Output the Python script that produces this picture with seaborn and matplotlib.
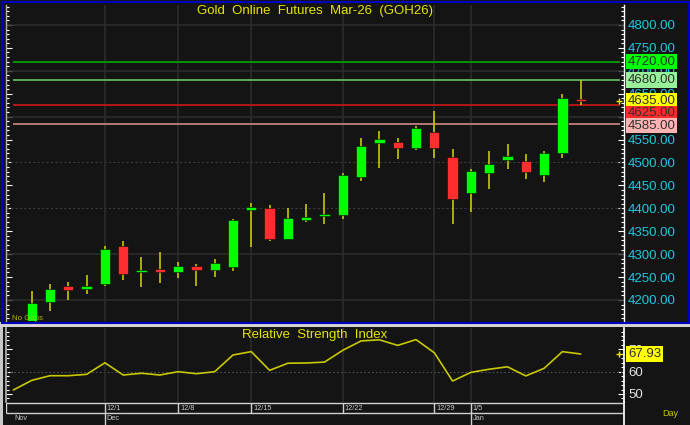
import numpy as np
import pandas as pd
import matplotlib
matplotlib.use("Agg")
import matplotlib.pyplot as plt
import matplotlib.ticker as mticker
import matplotlib.transforms as mtrans
from matplotlib.patches import Rectangle
import seaborn as sns

sns.set_theme(style="dark", rc={"axes.facecolor": "#141414", "figure.facecolor": "#141414"})
plt.rcParams['font.family'] = ['Liberation Sans', 'DejaVu Sans']

# =====================
# DATA
# =====================
opens  = [4128, 4150, 4196, 4231, 4224, 4235, 4317, 4260, 4268, 4262, 4275, 4265, 4273, 4397, 4401, 4333,
          4375, 4383, 4385, 4468, 4543, 4545, 4532, 4566, 4513, 4433, 4476, 4505, 4503, 4473, 4520, 4638]
closes = [4146, 4193, 4225, 4222, 4231, 4311, 4256, 4265, 4260, 4275, 4265, 4281, 4375, 4403, 4334, 4379,
          4381, 4388, 4473, 4537, 4551, 4531, 4575, 4532, 4421, 4482, 4497, 4515, 4479, 4520, 4641, 4635]
highs  = [4152, 4220, 4235, 4239, 4255, 4317, 4329, 4294, 4305, 4283, 4278, 4289, 4377, 4412, 4408, 4401,
          4409, 4433, 4477, 4554, 4569, 4554, 4580, 4613, 4529, 4485, 4524, 4541, 4518, 4526, 4649, 4680]
lows   = [4118, 4140, 4175, 4201, 4213, 4231, 4244, 4228, 4238, 4247, 4231, 4251, 4264, 4316, 4329, 4332,
          4371, 4365, 4377, 4460, 4487, 4507, 4528, 4509, 4366, 4393, 4443, 4485, 4463, 4457, 4509, 4625]
rsi    = [51.8, 56.1, 58.2, 58.2, 58.8, 64.0, 58.5, 59.3, 58.5, 60.0, 59.1, 60.0, 67.5, 69.0, 60.6, 63.8,
          63.9, 64.3, 69.6, 73.8, 74.3, 71.8, 74.4, 68.5, 55.8, 59.7, 61.1, 62.2, 58.1, 61.5, 69.0, 67.93]

date_labels = ['12/1', '12/8', '12/15', '12/22', '12/29', '1/5']
date_idx = [5, 9, 13, 18, 23, 25]
month_labels = ['Nov', 'Dec', 'Jan']
month_idx = [0, 5, 25]

levels = [4720, 4680, 4625, 4585]
level_line_colors = ['#00a000', '#5cb85c', '#c01818', '#c08080']
level_box_colors = ['#00ff00', '#98f098', '#ff2a2a', '#ffb4b4']
last_price = 4635
last_rsi = 67.93

title = 'Gold  Online  Futures  Mar-26  (GOH26)'
rsi_title = 'Relative  Strength  Index'

# =====================
# STYLE
# =====================
W, H = 690, 425
bg = '#141414'
green = '#00ff00'
red = '#ff2e2e'
wick = '#c8c800'
yellow_txt = '#e6e600'
cyan = '#1ec8e0'
grid_c = '#2c2c2c'
light = '#d0d0d0'


def fx(px):
    return px / W


def fy(py):
    return 1 - py / H


df = pd.DataFrame({'x': np.arange(len(opens)), 'open': opens, 'high': highs,
                   'low': lows, 'close': closes, 'rsi': rsi})
xlim = (-0.404, 33.366)

fig = plt.figure(figsize=(W / 100, H / 100), dpi=100)

# frames
fig.add_artist(Rectangle((0, fy(327)), 1, 5.5 / H, transform=fig.transFigure,
                         facecolor='#d4d4d4', edgecolor='none', zorder=0))
fig.add_artist(Rectangle((0, 0), fx(2.5), fy(327), transform=fig.transFigure,
                         facecolor='#c8c8c8', edgecolor='none', zorder=0))
fig.add_artist(Rectangle((fx(1.5), fy(322.5)), fx(687), 321 / H, transform=fig.transFigure,
                         fill=False, edgecolor='#0000c0', linewidth=1.5, zorder=5))

# =====================
# PRICE PANEL
# =====================
ax = fig.add_axes([fx(6), fy(321), (624 - 6) / W, (321 - 5) / H])
ax.set_facecolor(bg)

for g in [4200, 4300, 4600, 4700, 4800]:
    ax.axhline(g, color=grid_c, lw=1.2, zorder=1)
for g in [4400, 4500]:
    ax.axhline(g, color='#3a3a3a', lw=0.8, ls=(0, (2, 2)), zorder=1)
for i in date_idx:
    ax.axvline(i, color=grid_c, lw=1.2, zorder=1)

ax.hlines(levels, -0.04, 33.15, colors=level_line_colors, lw=1.3, zorder=2)

up = df['close'] >= df['open']
ax.vlines(df['x'], df['low'], df['high'], color=wick, lw=1.2, zorder=3)
ax.bar(df['x'], (df['close'] - df['open']).abs(), bottom=df[['open', 'close']].min(axis=1),
       width=0.56, color=np.where(up, green, red), edgecolor='#0a0a0a', linewidth=0.4, zorder=4)

ax.set_xlim(*xlim)
ax.set_ylim(4154.1, 4843.6)
ax.set_xticks([])
ax.yaxis.set_major_locator(mticker.MultipleLocator(50))
ax.yaxis.set_minor_locator(mticker.MultipleLocator(10))
ax.yaxis.set_major_formatter(mticker.FormatStrFormatter('%.2f'))
ax.tick_params(axis='y', which='both', left=True, right=True, labelleft=False, labelright=True,
               direction='in', colors='white', labelcolor=cyan, labelsize=9.5, pad=2.9)
ax.tick_params(axis='y', which='major', length=4, width=0.8)
ax.tick_params(axis='y', which='minor', length=2.5, width=0.8)
ax.grid(False)
for s in ['top', 'bottom']:
    ax.spines[s].set_visible(False)
ax.spines['right'].set_color('white')
ax.spines['left'].set_color('#b0b0b0')
ax.spines['right'].set_linewidth(1)
ax.spines['left'].set_linewidth(1)

trans = mtrans.blended_transform_factory(ax.transAxes, ax.transData)
box_h = 27.3
labels = sorted([(v, c, '#303030') for v, c in zip(levels, level_box_colors)] +
                [(last_price, '#ffff00', '#303030')], key=lambda t: -t[0])
prev = None
for v, c, tc in labels:
    pos = v if prev is None else min(v, prev - box_h)
    prev = pos
    ax.text(1 + 4 / 618, pos, f'{v:.2f}', transform=trans, ha='left', va='center',
            fontsize=9.5, color=tc, zorder=10, clip_on=False,
            bbox=dict(boxstyle='square,pad=0.12', facecolor=c, edgecolor='none'))
ax.plot([(619 - 6) / 618], [last_price], transform=trans, marker='+', color=yellow_txt,
        ms=4, mew=1, clip_on=False, zorder=10)

fig.text(fx(315), fy(11), title, ha='center', va='center', color=yellow_txt, fontsize=9.5)
fig.text(fx(12), fy(318), 'No Gaps', ha='left', va='center', color='#b8b800', fontsize=5.7, zorder=6)

# =====================
# RSI PANEL
# =====================
ax_rsi = fig.add_axes([fx(6), fy(402), (624 - 6) / W, (402 - 328) / H])
ax_rsi.set_facecolor(bg)
ax_rsi.axhline(60, color='#505050', lw=0.8, ls=(0, (1.5, 2)), zorder=1)
for i in date_idx:
    ax_rsi.axvline(i, color=grid_c, lw=1.2, zorder=1)
sns.lineplot(data=df, x='x', y='rsi', ax=ax_rsi, color=wick, lw=1.2, zorder=3)
ax_rsi.set_xlim(*xlim)
ax_rsi.set_ylim(46.4, 79.6)
ax_rsi.set_xlabel('')
ax_rsi.set_ylabel('')
ax_rsi.set_xticks([])
ax_rsi.yaxis.set_major_locator(mticker.FixedLocator([50, 60, 70]))
ax_rsi.yaxis.set_minor_locator(mticker.MultipleLocator(2))
ax_rsi.yaxis.set_major_formatter(mticker.FormatStrFormatter('%d'))
ax_rsi.tick_params(axis='y', which='both', left=True, right=True, labelleft=False, labelright=True,
                   direction='in', colors='white', labelcolor='#e0e0e0', labelsize=9.5, pad=2.9)
ax_rsi.tick_params(axis='y', which='major', length=4, width=0.8)
ax_rsi.tick_params(axis='y', which='minor', length=2.5, width=0.8)
ax_rsi.grid(False)
for s in ['top', 'bottom']:
    ax_rsi.spines[s].set_visible(False)
ax_rsi.spines['right'].set_color('white')
ax_rsi.spines['left'].set_color('#b0b0b0')

trans_r = mtrans.blended_transform_factory(ax_rsi.transAxes, ax_rsi.transData)
ax_rsi.text(1 + 4 / 618, last_rsi, f'{last_rsi:.2f}', transform=trans_r, ha='left', va='center',
            fontsize=9.5, color='#303030', zorder=10, clip_on=False,
            bbox=dict(boxstyle='square,pad=0.12', facecolor='#ffff00', edgecolor='none'))
ax_rsi.plot([(619 - 6) / 618], [last_rsi], transform=trans_r, marker='+', color=yellow_txt,
            ms=4, mew=1, clip_on=False, zorder=10)
fig.text(fx(315), fy(335), rsi_title, ha='center', va='center', color=yellow_txt, fontsize=9.5)

# =====================
# DATE STRIP
# =====================
ax_dt = fig.add_axes([fx(6), fy(425), (624 - 6) / W, (425 - 402) / H])
ax_dt.set_facecolor(bg)
ax_dt.set_xlim(*xlim)
ax_dt.set_ylim(23, 0)
ax_dt.set_xticks([])
ax_dt.set_yticks([])
for s in ['top', 'bottom', 'left']:
    ax_dt.spines[s].set_visible(False)
ax_dt.spines['right'].set_color('white')
ax_dt.hlines([0.8, 10.5], xlim[0], xlim[1], colors=light, lw=1)
ax_dt.vlines(date_idx, 0.8, 10.5, colors=light, lw=1)
ax_dt.vlines(month_idx[1:], 10.5, 23, colors=light, lw=1)
ax_dt.vlines([xlim[0] + 0.02], 0, 10.5, colors=light, lw=1)
for i, lab in zip(date_idx, date_labels):
    ax_dt.text(i + 0.1, 6.0, lab, ha='left', va='center', fontsize=5.3, color='#c8c8c8')
for i, lab in zip(month_idx, month_labels):
    ax_dt.text(i + 0.08, 16.3, lab, ha='left', va='center', fontsize=5.3, color='#c8c8c8')

fig.text(fx(670), fy(414), 'Day', ha='center', va='center', color='#c8c800', fontsize=6.5)

plt.savefig('out.png', dpi=100, facecolor=fig.get_facecolor())
